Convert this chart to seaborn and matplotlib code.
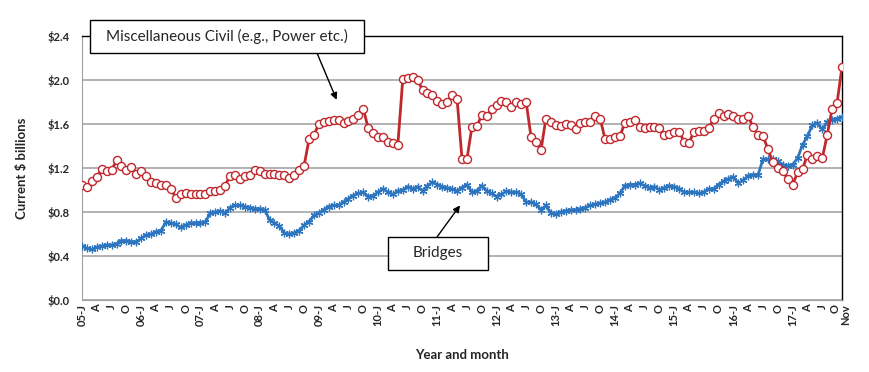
import numpy as np
import pandas as pd
import seaborn as sns
import matplotlib.pyplot as plt
from matplotlib.patches import Rectangle
from matplotlib.transforms import ScaledTranslation

# monthly values, Jan 2005 .. Nov 2017 (current $ billions)
misc_civil = [
    1.05, 1.03, 1.08, 1.12, 1.19, 1.17, 1.18, 1.27, 1.22, 1.18, 1.21, 1.15,
    1.17, 1.13, 1.07, 1.06, 1.05, 1.05, 1.01, 0.93, 0.96, 0.97, 0.96, 0.96,
    0.96, 0.96, 0.99, 0.99, 1.00, 1.04, 1.13, 1.14, 1.10, 1.13, 1.14, 1.18,
    1.17, 1.15, 1.15, 1.15, 1.14, 1.14, 1.11, 1.14, 1.18, 1.22, 1.46, 1.50,
    1.60, 1.62, 1.63, 1.64, 1.64, 1.61, 1.63, 1.65, 1.68, 1.74, 1.56, 1.52,
    1.48, 1.48, 1.44, 1.43, 1.41, 2.01, 2.02, 2.03, 2.00, 1.91, 1.88, 1.86,
    1.81, 1.78, 1.80, 1.86, 1.83, 1.28, 1.28, 1.57, 1.58, 1.68, 1.67, 1.74,
    1.77, 1.81, 1.80, 1.75, 1.80, 1.78, 1.80, 1.48, 1.44, 1.36, 1.65, 1.62,
    1.59, 1.58, 1.60, 1.59, 1.55, 1.61, 1.62, 1.62, 1.67, 1.65, 1.46, 1.46,
    1.48, 1.49, 1.61, 1.62, 1.64, 1.57, 1.56, 1.57, 1.57, 1.56, 1.50, 1.51,
    1.53, 1.53, 1.44, 1.43, 1.53, 1.54, 1.54, 1.56, 1.65, 1.70, 1.67, 1.69,
    1.67, 1.65, 1.65, 1.67, 1.57, 1.50, 1.49, 1.37, 1.25, 1.20, 1.17, 1.10,
    1.05, 1.16, 1.19, 1.32, 1.28, 1.31, 1.29, 1.50, 1.74, 1.79, 2.12,
]
bridges = [
    0.49, 0.47, 0.46, 0.48, 0.49, 0.50, 0.50, 0.51, 0.54, 0.54, 0.53, 0.53,
    0.56, 0.59, 0.60, 0.62, 0.63, 0.71, 0.70, 0.69, 0.66, 0.68, 0.70, 0.70,
    0.70, 0.71, 0.79, 0.80, 0.81, 0.79, 0.84, 0.86, 0.86, 0.85, 0.84, 0.83,
    0.83, 0.82, 0.73, 0.70, 0.67, 0.61, 0.60, 0.61, 0.63, 0.68, 0.71, 0.77,
    0.79, 0.82, 0.85, 0.86, 0.86, 0.89, 0.92, 0.95, 0.97, 0.98, 0.94, 0.95,
    0.98, 1.01, 0.98, 0.96, 0.99, 1.00, 1.03, 1.01, 1.03, 0.99, 1.04, 1.07,
    1.05, 1.03, 1.02, 1.01, 0.99, 1.02, 1.05, 0.98, 0.99, 1.04, 0.99, 0.97,
    0.94, 0.96, 0.99, 0.98, 0.98, 0.96, 0.89, 0.89, 0.87, 0.82, 0.86, 0.79,
    0.78, 0.80, 0.81, 0.82, 0.82, 0.83, 0.84, 0.86, 0.87, 0.88, 0.89, 0.91,
    0.93, 0.97, 1.04, 1.05, 1.05, 1.06, 1.04, 1.02, 1.03, 1.00, 1.02, 1.04,
    1.03, 1.01, 0.98, 0.98, 0.98, 0.97, 0.98, 1.01, 1.01, 1.05, 1.08, 1.10,
    1.12, 1.06, 1.09, 1.13, 1.14, 1.14, 1.28, 1.28, 1.28, 1.26, 1.23, 1.22,
    1.23, 1.29, 1.41, 1.49, 1.59, 1.61, 1.55, 1.62, 1.64, 1.65, 1.66,
]
years = list(range(2005, 2018))
quarter_letters = {0: "J", 3: "A", 6: "J", 9: "O"}

n = len(misc_civil)
tick_labels = []
for i in range(n):
    m = i % 12
    if i == n - 1:
        tick_labels.append("Nov")
    elif m == 0:
        tick_labels.append(f"{years[i // 12] % 100:02d}-J")
    elif m in quarter_letters:
        tick_labels.append(quarter_letters[m])
    else:
        tick_labels.append("")

df = pd.DataFrame({"month": np.arange(n), "misc": misc_civil, "bridges": bridges})

sns.set_style("white")
plt.rcParams["font.family"] = ["Lato", "DejaVu Sans"]

fig = plt.figure(figsize=(8.7, 3.72), dpi=100)
ax = fig.add_axes([82 / 870, 1 - 300 / 372, 760 / 870, 264 / 372])

blue = "#2E75C0"
red = "#C0282D"
sns.lineplot(data=df, x="month", y="bridges", ax=ax, color=blue, lw=2,
             marker=(6, 2, 0), markersize=5.5, markeredgecolor=blue,
             markeredgewidth=0.9, zorder=3)
sns.lineplot(data=df, x="month", y="misc", ax=ax, color=red, lw=2,
             marker="o", markersize=5.8, markerfacecolor="white",
             markeredgecolor=red, markeredgewidth=1.0, zorder=4)

ax.set_xlim(0, n - 1)
ax.set_ylim(0, 2.4)
ax.set_yticks(np.arange(0, 2.41, 0.4))
ax.set_yticklabels([f"\\${v:.1f}" for v in np.arange(0, 2.41, 0.4)],
                   fontsize=8, fontweight="bold")
ax.yaxis.grid(True, color="#A6A6A6", lw=1.2)
ax.set_axisbelow(True)
ax.tick_params(axis="y", length=0, pad=9)

ax.set_xticks(np.arange(n))
ax.set_xticklabels(tick_labels, rotation=90, fontsize=8, fontweight="bold")
ax.tick_params(axis="x", direction="in", length=3, color="#A0A0A0", pad=3)
# keep the last two labels ("O", "Nov") apart
xl = ax.get_xticklabels()
xl[-1].set_transform(xl[-1].get_transform() + ScaledTranslation(4 / 100, 0, fig.dpi_scale_trans))
xl[-2].set_transform(xl[-2].get_transform() + ScaledTranslation(-2 / 100, 0, fig.dpi_scale_trans))

for s in ["left", "bottom"]:
    ax.spines[s].set_color("#A0A0A0")
for s in ["top", "right"]:
    ax.spines[s].set_color("black")
    ax.spines[s].set_linewidth(1)

ax.set_xlabel("Year and month", fontsize=9.5, fontweight="bold", labelpad=16)
ax.set_ylabel("Current \\$ billions", fontsize=9.5, fontweight="bold", labelpad=14)

# callout boxes (figure pixels) with arrows to the series
W, H = 870, 372
boxes = [
    ("Miscellaneous Civil (e.g., Power etc.)", (90, 319, 274, 33), (317, 319), (51.6, 1.82)),
    ("Bridges", (388, 102, 100, 33), (437, 135), (76.6, 0.86)),
]
for label, (bx, by, bw, bh), start, tip in boxes:
    fig.patches.append(Rectangle((bx / W, by / H), bw / W, bh / H,
                                 transform=fig.transFigure, fc="white",
                                 ec="black", lw=1, zorder=5))
    fig.text((bx + bw / 2) / W, (by + bh / 2) / H, label, fontsize=11,
             ha="center", va="center", zorder=6)
    ax.annotate("", xy=tip, xytext=start, textcoords="figure pixels",
                arrowprops=dict(arrowstyle="-|>", color="black", lw=1,
                                shrinkA=0, shrinkB=0),
                annotation_clip=False, zorder=6)

fig.savefig("out.png", dpi=100)
